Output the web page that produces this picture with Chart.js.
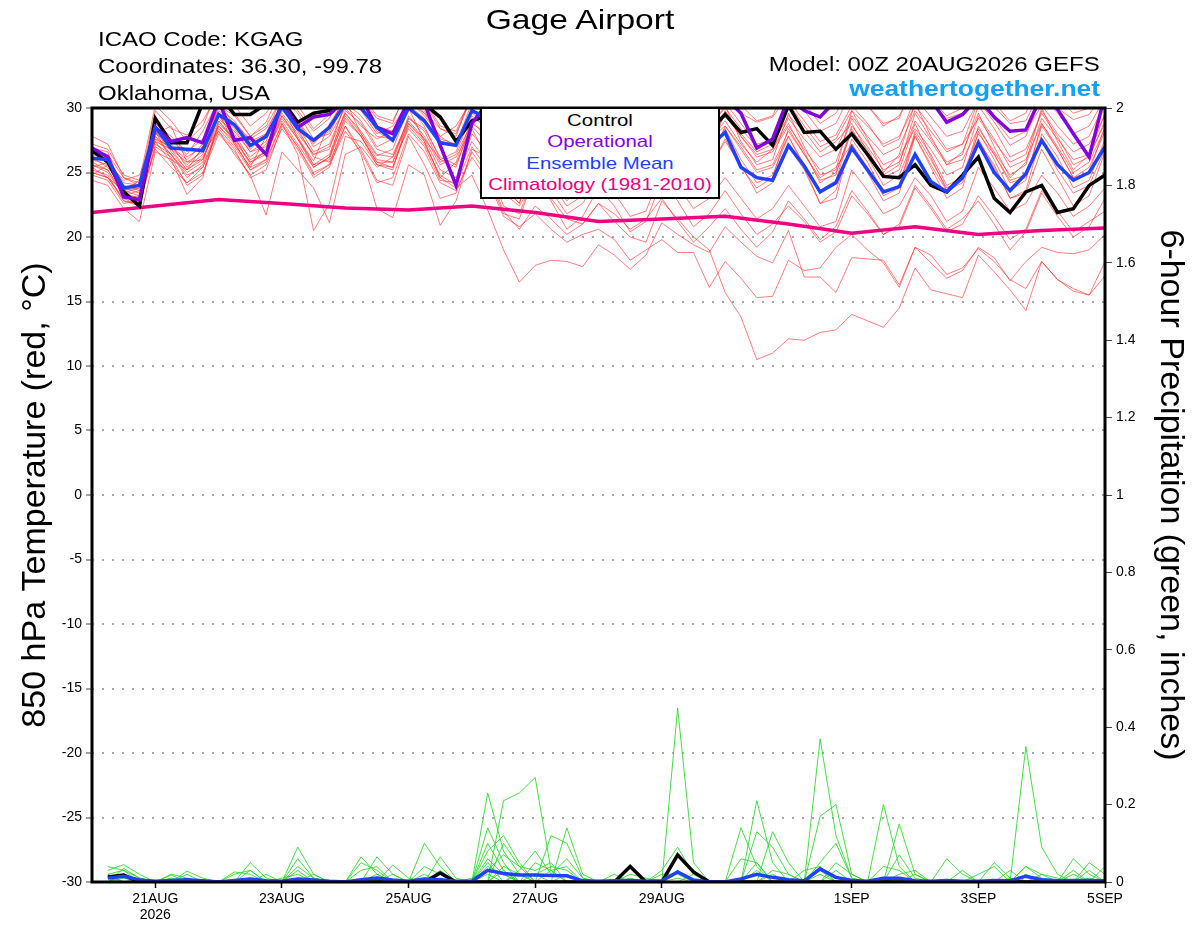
<!DOCTYPE html>
<html>
<head>
<meta charset="utf-8">
<title>Gage Airport GEFS</title>
<script src="https://cdn.jsdelivr.net/npm/chart.js@4.4.1/dist/chart.umd.min.js"></script>
<style>
  body { margin: 0; background: #fff; }
  #wrap { position: relative; width: 1200px; height: 927px; font-family: "Liberation Sans", Arial, sans-serif; }
  #wrap canvas { position: absolute; left: 0; top: 0; }
  .txt { position: absolute; line-height: 0; white-space: nowrap; color: #000; }
  .left { transform-origin: left center; transform: scaleX(1.2); }
  .right { transform-origin: right center; transform: scaleX(1.2); }
  .center { transform: translateX(-50%) scaleX(1.2); }
  #legendBox { position: absolute; left: 480px; top: 107px; width: 240px; height: 92px; box-sizing: border-box; border: 2px solid #000; background: #fff; }
</style>
</head>
<body>
<div id="wrap">
  <canvas id="chart" width="1200" height="927"></canvas>
  <div class="txt center" style="left:580px; top:20px; font-size:28px;">Gage Airport</div>
  <div class="txt left" style="left:98px; top:39px; font-size:20px;">ICAO Code: KGAG</div>
  <div class="txt left" style="left:98px; top:66px; font-size:20px;">Coordinates: 36.30, -99.78</div>
  <div class="txt left" style="left:98px; top:93px; font-size:20px;">Oklahoma, USA</div>
  <div class="txt right" style="right:100px; top:64px; font-size:20px;">Model: 00Z 20AUG2026 GEFS</div>
  <div class="txt right" style="right:100px; top:89px; font-size:22px; font-weight:bold; color:#12a0f8;">weathertogether.net</div>
  <div id="legendBox"></div>
  <div class="txt center" style="left:600px; top:121px; font-size:17px; color:#000;">Control</div>
  <div class="txt center" style="left:600px; top:142px; font-size:17px; color:#8a00e0;">Operational</div>
  <div class="txt center" style="left:600px; top:164px; font-size:17px; color:#2040ff;">Ensemble Mean</div>
  <div class="txt center" style="left:600px; top:185px; font-size:17px; color:#ee0080;">Climatology (1981-2010)</div>
</div>
<script>
// x axis: hours after 00Z 20AUG2026, temperature every 6 h from hour 0,
// 6-hour precipitation every 6 h from hour 6
var tickHours = [24, 72, 120, 168, 216, 288, 336, 384];
var tickLabels = [['21AUG', '2026'], '23AUG', '25AUG', '27AUG', '29AUG', '1SEP', '3SEP', '5SEP'];

// 850 hPa temperature (C)
var controlTemp = [
  26.7,25.8,23.5,22.4, 29.2,27.3,27.3,30.4, 31.0,29.5,29.5,30.3, 30.6,28.9,29.6,29.8,
  30.6,30.8,30.4,30.2, 30.8,30.3,29.3,27.4, 29.0,29.4,28.6,27.8, 30.2,29.6,28.4,28.8,
  30.6,29.8,28.6,29.0, 30.8,30.2,28.8,28.2, 29.5,28.1,28.4,27.1, 30.2,28.1,28.2,26.8,
  28.0,26.4,24.7,24.6, 25.6,24.0,23.5,24.8, 26.2,23.0,21.9,23.5, 24.0,21.9,22.2,24.0,
  24.8];
var operationalTemp = [
  26.9,26.2,23.1,22.9, 28.5,27.4,27.7,27.3, 30.6,27.5,27.7,26.4, 30.5,28.5,29.3,29.5,
  30.6,30.8,28.5,28.0, 30.6,30.4,27.1,24.0, 28.8,30.4,29.8,28.6, 31.0,30.6,29.2,29.6,
  31.2,30.4,29.0,29.4, 31.2,30.8,29.6,29.8, 30.8,29.6,26.9,27.6, 30.8,29.8,29.3,30.6,
  31.0,30.8,30.4,30.3, 31.2,30.6,28.9,29.5, 30.8,29.3,28.2,28.3, 31.0,29.9,28.0,26.2,
  31.0];
var meanTemp = [
  26.1,26.0,23.8,24.0, 28.5,26.9,26.8,26.7, 29.5,28.7,27.1,27.8, 30.1,28.4,27.5,28.5,
  30.3,30.0,28.5,27.5, 30.0,29.0,27.3,27.1, 29.8,29.2,28.4,27.6, 29.8,28.8,27.8,28.2,
  29.6,28.6,27.4,28.0, 29.4,28.8,27.6,27.0, 28.1,25.4,24.6,24.4, 27.1,25.5,23.5,24.2,
  26.9,25.2,23.5,23.9, 26.4,24.3,23.5,24.6, 27.3,25.0,23.6,24.9, 27.5,25.6,24.4,25.0,
  27.0];
// climatology, one value per day (00Z)
var climatologyTemp = [21.9, 22.4, 22.9, 22.6, 22.25, 22.1, 22.4, 21.9, 21.2, 21.4, 21.6, 21.0, 20.3, 20.8, 20.2, 20.5, 20.7];

var tempMember01 = [
  27.8,27.2,24.6,24.0, 29.8,28.4,27.9,29.0, 31.2,29.6,27.8,28.9, 31.6,30.2,28.4,29.5,
  31.8,31.0,29.4,29.0, 31.4,30.6,28.6,28.2, 31.0,30.4,29.0,28.8, 31.5,30.8,29.6,29.9,
  32.0,31.0,29.4,29.2, 31.6,30.5,29.2,29.8, 31.4,29.6,28.9,29.3, 31.0,29.8,28.2,28.8,
  31.3,30.2,28.6,29.4, 31.8,30.4,29.2,29.6, 31.2,30.1,28.8,29.0, 31.6,30.0,29.1,29.5,
  31.3];
var tempMember02 = [
  26.9,26.6,23.4,23.0, 28.6,27.6,26.4,28.2, 30.6,28.6,26.8,28.0, 30.9,29.0,27.4,28.2,
  31.2,30.3,28.2,27.4, 30.8,29.8,27.6,27.2, 30.4,29.4,26.5,26.0, 29.8,29.2,27.6,28.1,
  30.8,29.9,28.3,28.4, 31.1,29.6,28.0,28.9, 30.4,28.8,27.2,27.5, 30.6,29.0,27.4,27.9,
  30.2,28.8,27.0,27.6, 30.8,29.3,27.8,28.2, 30.6,28.9,27.1,27.8, 31.0,29.6,28.0,28.6,
  30.8];
var tempMember03 = [
  25.4,25.8,23.0,22.4, 28.2,26.6,25.2,27.0, 29.6,27.2,25.4,27.8, 30.4,27.6,25.9,28.8,
  30.6,28.0,26.3,26.8, 30.0,27.4,24.6,25.8, 29.2,28.6,24.8,23.9, 30.4,28.2,26.2,27.6,
  31.4,28.9,26.8,27.5, 30.8,28.2,26.2,28.4, 30.2,27.4,25.6,26.0, 29.6,27.0,24.8,25.2,
  29.8,27.6,25.0,26.4, 30.4,27.8,25.6,26.6, 29.6,27.0,24.6,25.8, 30.0,27.4,25.2,26.4,
  29.6];
var tempMember04 = [
  24.4,24.0,22.2,21.2, 26.6,26.0,25.2,26.2, 28.6,27.2,25.4,26.0, 28.8,26.4,20.5,22.6,
  27.8,27.4,25.6,25.2, 29.2,28.2,25.8,26.4, 28.8,28.0,26.6,25.4, 29.2,27.6,25.4,26.8,
  30.2,28.6,26.9,27.2, 29.6,28.0,26.4,27.4, 29.0,27.2,25.8,26.8, 28.8,26.6,24.2,25.0,
  28.2,26.8,24.6,25.2, 28.8,26.2,23.6,24.8, 28.0,26.4,24.2,24.6, 28.6,26.8,24.6,25.4,
  28.2];
var tempMember05 = [
  25.0,24.6,23.6,23.8, 27.4,25.8,24.2,25.4, 28.2,26.4,24.8,21.7, 26.6,25.2,23.8,21.1,
  26.4,27.0,25.4,26.2, 28.8,27.6,26.0,26.6, 29.4,28.4,27.2,27.0, 30.0,29.2,27.6,28.4,
  30.4,29.0,27.6,28.0, 30.0,28.6,27.0,27.8, 29.6,27.8,26.4,26.8, 29.2,27.6,26.2,26.8,
  29.4,27.8,26.4,27.0, 29.8,28.2,26.6,27.2, 29.2,27.4,25.8,26.4, 29.8,28.0,26.6,27.2,
  29.4];
var tempMember06 = [
  26.2,25.4,23.8,23.4, 28.8,27.8,26.6,27.6, 29.8,28.8,27.6,28.4, 30.2,28.4,26.2,25.8,
  28.6,26.4,22.2,21.5, 25.6,24.8,20.9,22.8, 26.8,26.2,24.6,25.2, 28.6,27.4,25.8,26.6,
  29.4,28.2,26.4,26.8, 29.8,28.4,26.6,27.6, 28.6,27.0,25.2,25.6, 28.2,26.4,24.4,24.8,
  28.6,27.0,25.2,25.8, 29.0,27.4,25.6,26.0, 28.4,26.6,24.8,25.6, 29.2,27.6,26.0,26.4,
  28.8];
var tempMember07 = [
  25.6,25.0,23.2,22.8, 27.0,26.2,24.0,24.8, 28.8,27.6,26.2,27.2, 29.4,27.8,25.6,26.4,
  29.6,28.2,26.4,26.2, 29.2,28.4,26.2,25.6, 28.6,27.2,24.2,23.4, 27.2,25.4,23.0,23.6,
  27.8,26.2,24.4,25.0, 28.6,26.8,24.6,25.4, 27.4,25.6,23.4,24.2, 27.0,25.2,22.6,23.0,
  27.6,25.8,23.4,24.0, 28.2,26.4,24.0,24.6, 27.4,25.6,23.0,23.6, 28.0,26.2,23.8,24.4,
  27.6];
var tempMember08 = [
  26.4,26.0,24.2,24.0, 28.4,27.0,26.0,27.2, 30.0,29.0,27.4,28.0, 29.6,28.0,26.4,26.8,
  30.4,29.4,27.8,27.6, 30.2,29.2,27.4,27.2, 29.6,28.8,27.0,25.2, 27.6,26.4,24.8,26.0,
  29.0,27.8,25.6,26.4, 29.4,27.4,25.0,26.6, 28.4,26.0,24.2,24.8, 27.8,25.6,23.6,24.4,
  28.4,26.2,24.0,24.8, 27.8,25.4,23.0,23.8, 28.2,26.0,23.6,24.4, 28.8,26.8,24.6,25.0,
  28.6];
var tempMember09 = [
  25.2,24.8,22.8,22.6, 27.6,27.0,25.6,26.8, 29.2,28.0,26.0,26.6, 29.0,27.2,25.4,26.2,
  29.8,28.8,26.8,26.4, 29.0,27.6,25.2,24.6, 27.4,25.8,22.4,21.8, 25.0,23.6,21.8,22.6,
  24.6,23.4,21.6,22.0, 25.2,24.0,22.2,23.0, 24.6,23.0,21.4,22.2, 24.0,22.4,20.8,21.2,
  25.2,23.6,21.8,22.4, 24.6,23.2,21.2,22.0, 25.4,23.8,22.0,22.6, 24.8,23.4,21.6,22.4,
  23.8];
var tempMember10 = [
  27.2,26.8,24.8,24.4, 30.2,29.0,27.4,28.6, 31.6,30.2,28.6,29.6, 31.4,29.8,28.2,29.2,
  32.0,30.8,29.2,28.8, 31.8,30.4,28.4,27.8, 31.2,30.0,28.4,28.2, 30.8,29.8,28.8,29.4,
  31.6,30.6,29.0,29.6, 32.0,30.8,29.6,30.2, 31.8,30.2,29.0,29.4, 32.0,30.4,28.8,29.6,
  31.6,30.2,28.8,29.2, 32.2,30.6,29.4,30.0, 31.8,30.4,29.0,29.6, 32.4,30.8,29.6,30.0,
  31.8];
var tempMember11 = [
  26.0,26.2,24.0,23.6, 28.0,28.6,25.8,26.0, 29.4,28.2,26.6,27.4, 30.6,29.0,27.0,27.8,
  30.0,28.6,27.6,28.2, 30.6,29.4,27.8,27.0, 29.8,29.0,26.2,24.6, 28.2,27.8,25.0,25.8,
  29.8,28.4,26.2,27.0, 28.4,27.0,25.4,26.2, 29.8,28.0,26.6,27.2, 29.4,28.2,26.6,27.4,
  28.8,26.6,24.8,25.6, 29.6,27.6,25.8,26.4, 30.2,28.4,26.2,26.8, 29.6,27.8,25.6,26.2,
  29.0];
var tempMember12 = [
  24.8,25.6,23.6,24.4, 27.8,26.4,25.0,25.8, 29.4,27.8,25.6,26.8, 30.8,28.8,27.2,28.6,
  30.8,29.8,28.0,28.6, 30.4,29.6,28.4,28.0, 30.8,30.0,28.2,27.4, 29.4,28.6,27.0,27.8,
  30.4,29.2,27.4,27.8, 30.6,29.4,27.8,28.6, 30.0,28.4,27.0,27.4, 30.4,28.6,27.0,27.6,
  29.8,28.6,27.2,27.8, 30.2,28.6,26.8,27.2, 30.6,29.2,27.6,28.2, 30.2,28.6,27.2,27.8,
  30.4];
var tempMember13 = [
  26.6,25.8,24.4,24.8, 28.2,26.0,23.3,24.6, 29.0,27.4,25.2,26.0, 29.8,28.6,26.6,27.2,
  30.2,29.0,27.0,27.6, 30.8,29.6,27.8,28.6, 30.6,29.6,28.2,27.8, 30.6,29.6,28.4,28.8,
  30.0,28.4,26.2,26.8, 30.2,28.8,27.2,27.6, 29.4,27.8,26.2,26.6, 28.6,26.8,25.2,25.8,
  29.2,27.4,25.6,26.2, 28.4,26.8,24.8,25.4, 29.4,27.6,25.4,26.0, 28.8,27.0,25.0,25.8,
  28.4];
var tempMember14 = [
  25.8,25.2,23.4,23.8, 27.4,26.8,25.8,26.6, 28.2,26.8,24.6,25.2, 28.6,27.0,25.0,25.6,
  29.0,27.8,25.8,25.8, 28.4,27.0,24.4,24.2, 28.0,26.6,24.0,22.6, 26.4,24.8,22.8,24.0,
  27.6,26.0,23.8,24.6, 28.0,26.2,24.2,25.2, 27.6,25.4,23.8,24.6, 28.4,26.4,24.6,25.4,
  27.2,25.4,23.2,23.8, 28.0,26.0,23.8,24.4, 27.6,25.4,23.0,23.4, 26.8,24.6,22.4,23.2,
  26.6];
var tempMember15 = [
  24.8,24.4,22.6,22.8, 26.8,25.4,24.2,25.0, 28.0,26.6,24.8,25.6, 28.4,26.8,24.6,25.4,
  28.6,26.8,24.4,24.0, 27.8,25.6,23.0,23.4, 26.6,24.8,21.8,21.4, 25.0,22.8,20.6,21.6,
  23.8,22.4,20.4,21.2, 24.4,22.8,20.8,21.8, 23.6,21.8,20.2,21.0, 22.4,21.2,19.6,20.4,
  23.2,21.8,20.2,20.8, 23.8,22.2,20.4,21.0, 23.2,21.6,19.8,20.6, 23.6,22.0,20.4,21.2,
  22.0];
var tempMember16 = [
  25.4,24.6,23.0,23.2, 27.6,26.4,24.6,25.6, 28.6,27.4,25.8,26.6, 29.2,27.6,25.6,26.0,
  29.4,27.8,25.6,25.4, 28.6,27.2,24.8,24.0, 27.0,25.2,22.0,20.6, 22.4,21.4,20.2,21.0,
  22.6,21.8,20.6,21.4, 23.0,21.2,19.6,20.8, 22.2,20.6,19.2,20.4, 22.8,21.4,19.8,20.8,
  23.6,22.0,20.2,21.0, 24.0,22.4,20.6,21.4, 22.8,21.0,19.0,20.4, 23.4,21.6,20.0,20.8,
  23.0];
var tempMember17 = [
  26.0,25.6,23.6,23.2, 28.0,27.2,25.4,26.4, 29.6,28.4,26.6,27.0, 30.0,28.2,26.4,27.0,
  29.6,28.0,26.0,25.8, 29.4,27.8,25.6,26.2, 28.4,26.0,23.4,22.4, 24.6,23.0,21.4,21.0,
  22.6,21.2,20.0,19.6, 22.8,21.4,20.0,19.0, 15.7,13.8,10.5,11.0, 12.1,12.0,12.6,12.8,
  14.0,13.5,13.0,14.5, 17.6,15.9,15.6,15.3, 18.6,17.3,15.9,14.3, 18.1,16.7,15.8,15.5,
  18.1];
var tempMember18 = [
  25.0,24.6,22.8,22.4, 27.2,26.4,24.8,25.4, 28.4,27.0,25.2,25.8, 28.8,27.0,24.8,25.6,
  28.2,26.6,24.2,24.6, 28.0,26.6,24.2,23.6, 26.2,24.4,21.6,20.8, 21.8,20.6,19.6,20.2,
  20.6,19.8,18.2,19.0, 19.8,18.8,18.8,16.1, 18.1,16.8,15.3,15.4, 18.2,17.4,17.6,19.2,
  20.2,19.0,18.0,16.1, 19.2,18.6,17.1,17.6, 19.1,18.1,16.7,16.0, 18.1,16.7,16.0,15.5,
  17.0];
var tempMember19 = [
  25.6,25.2,23.2,23.6, 27.8,26.8,25.2,26.0, 29.0,27.6,25.8,26.4, 29.4,27.6,25.4,26.2,
  29.2,27.8,25.8,25.4, 28.8,27.4,24.6,23.8, 24.8,22.1,19.0,16.5, 17.8,18.2,18.1,17.7,
  19.4,18.6,17.5,18.6, 21.1,20.2,19.4,18.8, 20.8,19.6,18.5,18.0, 20.5,16.9,16.9,15.7,
  18.4,18.3,18.2,16.3, 19.2,18.0,16.8,17.4, 19.2,18.4,16.6,18.1, 19.2,18.8,18.7,19.0,
  20.2];
var tempMember20 = [
  26.6,26.4,24.6,24.2, 28.8,27.6,26.2,27.0, 30.2,29.4,27.8,28.6, 30.8,29.6,27.6,28.0,
  30.6,29.8,28.6,28.2, 30.2,28.6,26.0,25.4, 29.0,27.6,23.8,22.6, 26.6,24.2,22.4,23.2,
  27.4,25.6,23.6,24.2, 28.0,26.4,24.8,25.6, 28.6,26.8,25.0,25.4, 27.8,25.4,22.6,23.6,
  27.2,25.0,22.8,23.4, 27.8,25.6,23.6,24.2, 28.6,26.4,24.4,24.8, 27.4,25.2,23.4,24.0,
  26.8];

// 6-hour precipitation (inches), periods ending 06Z 20AUG ... 00Z 5SEP
var controlRain = [
  .013,.018,0,0, 0,0,0,0, 0,0,0,0, 0,0,0,0,
  0,0,0,0, 0,.023,0,0, 0,0,0,0, 0,0,0,0,
  0,.04,0,0, .07,.026,0,0, 0,0,0,0, 0,0,0,0,
  0,0,0,0, 0,0,0,0, 0,0,0,0, 0,0,0,0];
var meanRain = [
  .01,.015,.005,.002, .004,.006,.003,0, .004,.008,.003,.002, .008,.005,.002,0,
  .006,.01,.005,.002, .008,.006,.002,.002, .03,.022,.018,.018, .017,.016,.003,.002,
  .003,.004,.002,.003, .026,.005,0,0, .008,.02,.012,.006, .003,.034,.012,.004,
  .002,.01,.01,.003, .002,.004,.002,.002, .004,.003,.015,.006, .003,.004,.004,.003];

var rainMember01 = [
  .04,.03,.01,0, .02,.01,0,0, 0,0,0,0, .09,.02,0,0,
  0,0,0,0, 0,0,0,0, .23,.08,.02,0, 0,0,0,0,
  0,0,0,0, .45,.05,0,0, 0,0,0,0, 0,.37,.12,.01,
  0,0,0,0, 0,0,0,0, 0,0,.04,.01, 0,0,0,0];
var rainMember02 = [
  .03,.045,.02,0, 0,0,0,0, 0,.05,.01,0, .06,.01,0,0,
  0,0,0,0, .1,.04,0,0, 0,.21,.23,.27, .03,0,0,0,
  0,0,0,.03, .09,.02,0,0, 0,.21,.05,0, 0,0,0,0,
  0,.2,.04,0, 0,0,0,0, 0,0,0,0, 0,.06,.02,0];
var rainMember03 = [
  0,.035,.01,0, 0,.028,.01,0, .026,.02,0,0, 0,0,0,0,
  .065,.02,0,0, 0,0,0,0, .14,.05,0,0, 0,.14,.02,0,
  0,0,0,0, 0,0,0,0, .14,.04,0,0, 0,.17,.2,.02,
  0,0,0,0, 0,0,0,0, 0,0,.35,.09, .02,0,0,0];
var rainMember04 = [
  .02,.03,0,0, 0,0,0,0, 0,0,0,0, .04,.01,0,0,
  0,.065,.02,0, 0,0,0,0, .1,.03,0,0, .12,.1,.01,0,
  0,0,0,0, 0,0,0,0, 0,0,.13,.05, 0,0,0,0,
  0,0,.15,.02, 0,0,0,0, .05,.01,0,0, 0,0,0,0];
var rainMember05 = [
  0,.02,0,0, .018,0,0,0, 0,.03,0,0, 0,0,0,0,
  0,0,.044,.01, 0,.065,.01,0, 0,.1,.04,0, 0,0,0,0,
  0,0,0,0, .03,0,0,0, 0,.13,.09,.02, 0,0,0,0,
  0,0,0,0, 0,.06,.02,0, 0,0,0,0, 0,0,.05,.02];
var rainMember06 = [
  .01,.02,0,0, 0,0,0,0, 0,0,.02,0, 0,0,0,0,
  .05,.03,0,0, 0,0,0,0, .06,.02,0,.05, .03,.04,0,0,
  0,0,0,0, 0,0,0,0, 0,0,0,0, 0,.05,.1,.01,
  0,0,.07,.01, 0,0,0,0, 0,0,.04,.02, 0,0,0,.04];
var rainMember07 = [
  0,.015,0,0, 0,.02,0,0, 0,0,0,0, .03,0,0,0,
  0,0,0,0, .04,.02,0,0, .08,.12,.05,0, 0,0,0,0,
  0,.02,.01,0, 0,0,0,0, .06,.05,0,0, 0,0,0,0,
  0,.04,.03,0, 0,0,0,.02, .04,0,0,0, 0,0,0,0];
var rainMember08 = [
  .02,0,0,0, 0,0,0,0, .02,.03,0,0, 0,0,0,0,
  .03,.04,0,0, 0,0,0,.01, .03,.07,.04,.03, .05,0,0,0,
  0,0,0,0, 0,.02,0,0, 0,0,.03,.02, 0,.03,0,0,
  0,0,0,0, 0,0,0,0, 0,.03,0,0, 0,.03,0,0];
var rainMember09 = [
  0,.01,0,0, 0,0,0,0, 0,0,0,0, 0,.02,0,0,
  0,0,0,0, 0,.03,0,0, .05,0,.03,.08, .02,.06,.01,0,
  0,0,0,.02, .02,0,0,0, 0,.05,0,0, 0,0,.05,.02,
  0,0,0,0, 0,0,.03,0, 0,0,0,.02, .01,0,0,0];
var rainMember10 = [
  .015,0,0,0, .01,0,0,0, 0,0,0,.01, .02,0,0,0,
  0,0,.02,0, 0,0,0,0, 0,.04,.02,.02, .04,.03,0,0,
  .02,0,0,0, 0,0,0,0, 0,0,0,0, .03,.04,0,0,
  0,0,.02,.03, 0,0,0,0, 0,0,0,0, 0,0,.03,0];
var rainMember11 = [
  0,.02,0,0, 0,0,0,0, 0,0,0,0, 0,0,0,0,
  0,.02,0,0, 0,0,0,0, .04,.02,0,0, 0,0,0,0,
  0,.01,0,0, 0,0,0,0, 0,0,0,0, 0,0,.03,0,
  0,0,0,0, 0,0,0,0, 0,0,.02,0, 0,0,0,0];
var rainMember12 = [
  .01,0,0,0, 0,0,0,0, 0,0,0,0, 0,.01,0,0,
  0,0,0,0, 0,0,0,0, 0,.03,0,.02, 0,0,0,0,
  0,0,0,0, 0,0,0,0, 0,0,.02,0, 0,0,0,0,
  0,0,0,.02, 0,0,0,0, 0,0,0,0, 0,.02,0,0];
var rainMember13 = [
  0,0,.01,0, 0,0,0,0, 0,0,0,0, 0,0,0,0,
  0,0,0,0, .02,0,0,0, .02,0,0,0, .03,0,0,0,
  0,0,0,0, .01,0,0,0, 0,0,0,0, 0,.02,0,0,
  0,0,0,0, 0,0,0,0, 0,.01,0,0, 0,0,0,0];
var rainMember14 = [
  0,0,0,0, 0,.01,0,0, 0,0,0,0, 0,0,0,0,
  0,0,0,0, 0,.01,0,0, 0,0,.02,0, 0,.02,0,0,
  0,0,0,0, 0,0,0,0, 0,.03,0,0, 0,0,0,0,
  0,0,.01,0, 0,0,0,0, 0,0,0,0, 0,0,.01,0];

var tempMembers = [tempMember01, tempMember02, tempMember03, tempMember04, tempMember05,
  tempMember06, tempMember07, tempMember08, tempMember09, tempMember10, tempMember11,
  tempMember12, tempMember13, tempMember14, tempMember15, tempMember16, tempMember17,
  tempMember18, tempMember19, tempMember20];
var rainMembers = [rainMember01, rainMember02, rainMember03, rainMember04, rainMember05,
  rainMember06, rainMember07, rainMember08, rainMember09, rainMember10, rainMember11,
  rainMember12, rainMember13, rainMember14];

function toPoints(values, firstHour, step) {
  return values.map(function (v, i) { return { x: firstHour + i * step, y: v }; });
}

function lineSet(values, firstHour, step, axis, color, width, order) {
  return {
    data: toPoints(values, firstHour, step),
    yAxisID: axis,
    borderColor: color,
    borderWidth: width,
    pointRadius: 0,
    fill: false,
    tension: 0,
    clip: 0,
    order: order
  };
}

var datasets = [];
tempMembers.forEach(function (m) {
  datasets.push(lineSet(m, 0, 6, 'y', 'rgba(255,40,40,0.6)', 1, 10));
});
rainMembers.forEach(function (m) {
  datasets.push(lineSet(m, 6, 6, 'y2', 'rgba(40,215,40,0.85)', 1, 9));
});
datasets.push(lineSet(climatologyTemp, 0, 24, 'y', 'rgb(240,0,130)', 3.5, 5));
datasets.push(lineSet(controlTemp, 0, 6, 'y', '#000', 3.5, 4));
datasets.push(lineSet(controlRain, 6, 6, 'y2', '#000', 3.5, 4));
datasets.push(lineSet(operationalTemp, 0, 6, 'y', 'rgb(128,0,224)', 3.5, 3));
datasets.push(lineSet(meanTemp, 0, 6, 'y', 'rgb(32,64,255)', 3.5, 2));
datasets.push(lineSet(meanRain, 6, 6, 'y2', 'rgb(32,64,255)', 3.5, 2));

// frame around the plot, drawn over the lines
var framePlugin = {
  id: 'frame',
  afterDatasetsDraw: function (chart) {
    var a = chart.chartArea;
    var c = chart.ctx;
    c.save();
    c.strokeStyle = '#000';
    c.lineWidth = 3;
    c.strokeRect(a.left, a.top, a.right - a.left, a.bottom - a.top);
    c.restore();
  }
};

Chart.defaults.font.family = '"Liberation Sans", Arial, sans-serif';
Chart.defaults.color = '#000';

new Chart(document.getElementById('chart'), {
  type: 'line',
  data: { datasets: datasets },
  options: {
    responsive: false,
    devicePixelRatio: 1,
    animation: false,
    layout: { padding: { top: 108, left: 0, right: 0, bottom: 0 } },
    plugins: { legend: { display: false }, tooltip: { enabled: false } },
    scales: {
      x: {
        type: 'linear',
        min: 0,
        max: 384,
        afterFit: function (s) { s.height = 45; },
        afterBuildTicks: function (axis) {
          axis.ticks = tickHours.map(function (h) { return { value: h }; });
        },
        ticks: {
          autoSkip: false,
          maxRotation: 0,
          padding: 3,
          font: { size: 14, lineHeight: 1.143 },
          callback: function (value) {
            var k = tickHours.indexOf(value);
            return k >= 0 ? tickLabels[k] : '';
          }
        },
        grid: { drawOnChartArea: false, tickLength: 6, tickColor: '#000', tickWidth: 1.5 },
        border: { display: false }
      },
      y: {
        position: 'left',
        min: -30,
        max: 30,
        afterFit: function (s) { s.width = 92; },
        ticks: { stepSize: 5, padding: 4, font: { size: 14 } },
        grid: { color: 'rgba(150,150,150,0.85)', lineWidth: 2, tickLength: 6, tickColor: '#444', tickWidth: 1, tickBorderDash: [] },
        border: { display: false, dash: [2, 8] },
        title: {
          display: true,
          text: '850 hPa Temperature (red, °C)',
          font: { size: 34 },
          padding: { top: 15, bottom: 0 }
        }
      },
      y2: {
        position: 'right',
        min: 0,
        max: 2,
        afterFit: function (s) { s.width = 95; },
        ticks: {
          stepSize: 0.2,
          padding: 4,
          font: { size: 14 },
          callback: function (value) { return String(Number(value.toFixed(1))); }
        },
        grid: { drawOnChartArea: false, tickLength: 7, tickColor: '#444', tickWidth: 1 },
        border: { display: false },
        title: {
          display: true,
          text: '6-hour Precipitation (green, inches)',
          font: { size: 34 },
          padding: { top: 9, bottom: 0 }
        }
      }
    }
  },
  plugins: [framePlugin]
});
</script>
</body>
</html>
